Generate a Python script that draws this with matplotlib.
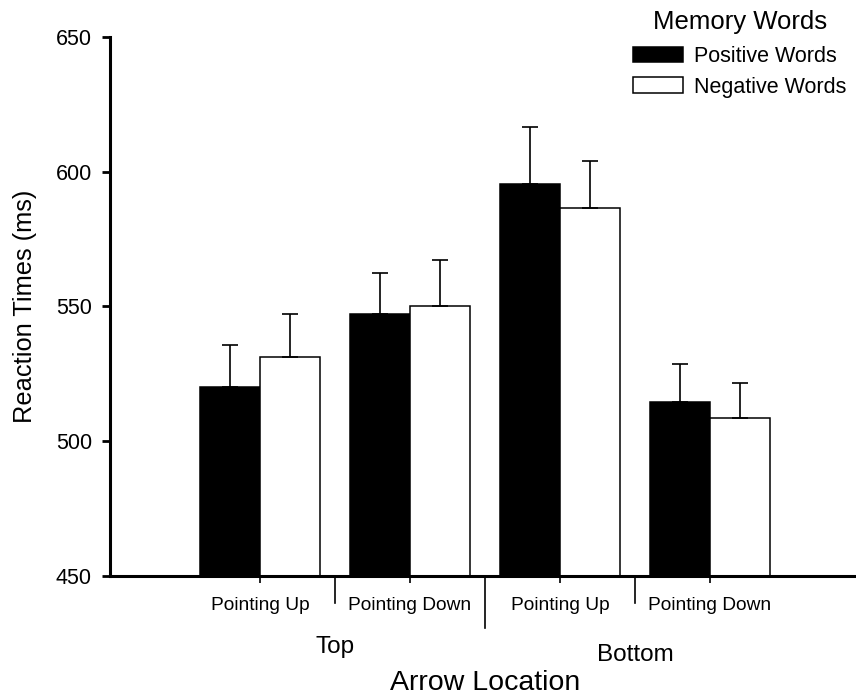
import matplotlib
matplotlib.use("Agg")
import matplotlib.pyplot as plt
import matplotlib.transforms as mtransforms
import numpy as np

plt.rcParams['font.family'] = ['Liberation Sans', 'DejaVu Sans']

# values
conditions = ['Pointing Up', 'Pointing Down', 'Pointing Up', 'Pointing Down']
locations = ['Top', 'Bottom']
positive = [520.3, 547.2, 595.6, 514.7]
negative = [531.2, 550.2, 586.7, 508.8]
positive_err = [15.4, 15.2, 21.1, 14.1]
negative_err = [15.9, 17.1, 17.3, 12.8]

x = np.arange(1, len(conditions) + 1)
width = 0.4

fig = plt.figure(figsize=(8.56, 6.97), dpi=100)
ax = fig.add_axes([0.1285, 0.1736, 0.8715, 0.7734])

err_kw = dict(elinewidth=1.2, capthick=1.2, capsize=6, ecolor='black')
ax.bar(x - width / 2, positive, width, color='black', edgecolor='black',
       linewidth=1.1, yerr=[np.zeros(4), positive_err], error_kw=err_kw,
       label='Positive Words', zorder=2)
ax.bar(x + width / 2, negative, width, color='white', edgecolor='black',
       linewidth=1.1, yerr=[np.zeros(4), negative_err], error_kw=err_kw,
       label='Negative Words', zorder=2)

ax.set_xlim(0, 4.973)
ax.set_ylim(450, 650)
ax.set_yticks([450, 500, 550, 600, 650])
ax.tick_params(axis='y', labelsize=15.5, length=6, width=2, pad=7)
ax.set_xticks(x, conditions)
ax.tick_params(axis='x', labelsize=13.8, length=5, width=1.2, pad=10)

for side in ['top', 'right']:
    ax.spines[side].set_visible(False)
ax.spines['left'].set_linewidth(2.2)
ax.spines['bottom'].set_linewidth(2.2)

# separators between conditions / locations
trans = mtransforms.blended_transform_factory(ax.transData, fig.transFigure)
seps = [(x[0] + x[1]) / 2, (x[1] + x[2]) / 2, (x[2] + x[3]) / 2]
seps_low = [1 - 603 / 697, 1 - 628 / 697, 1 - 603 / 697]
axis_y = 1 - 577 / 697
for sx, sy in zip(seps, seps_low):
    ax.plot([sx, sx], [axis_y, sy], color='black', lw=1.2,
            transform=trans, clip_on=False)

ax.text(seps[0], 1 - 647 / 697, locations[0], transform=trans,
        ha='center', va='center', fontsize=17.5)
ax.text(seps[2], 1 - 655 / 697, locations[1], transform=trans,
        ha='center', va='center', fontsize=17.5)
ax.text(seps[1], 1 - 683 / 697, 'Arrow Location', transform=trans,
        ha='center', va='center', fontsize=20.5)

ax.set_ylabel('Reaction Times (ms)', fontsize=18.3)
ax.yaxis.set_label_coords(-0.098, 0.5)

# legend, title placed on its own
fig.text(740 / 856, 1 - 22 / 697, 'Memory Words', ha='center', va='center',
         fontsize=18.5)
ax.legend(loc='upper left', bbox_to_anchor=(633 / 856, 1 - 46 / 697),
          bbox_transform=fig.transFigure, frameon=False,
          fontsize=15.5, handlelength=2.3, handleheight=0.72,
          handletextpad=0.55, labelspacing=0.45, borderpad=0,
          borderaxespad=0)

fig.savefig('out.png', dpi=100)
